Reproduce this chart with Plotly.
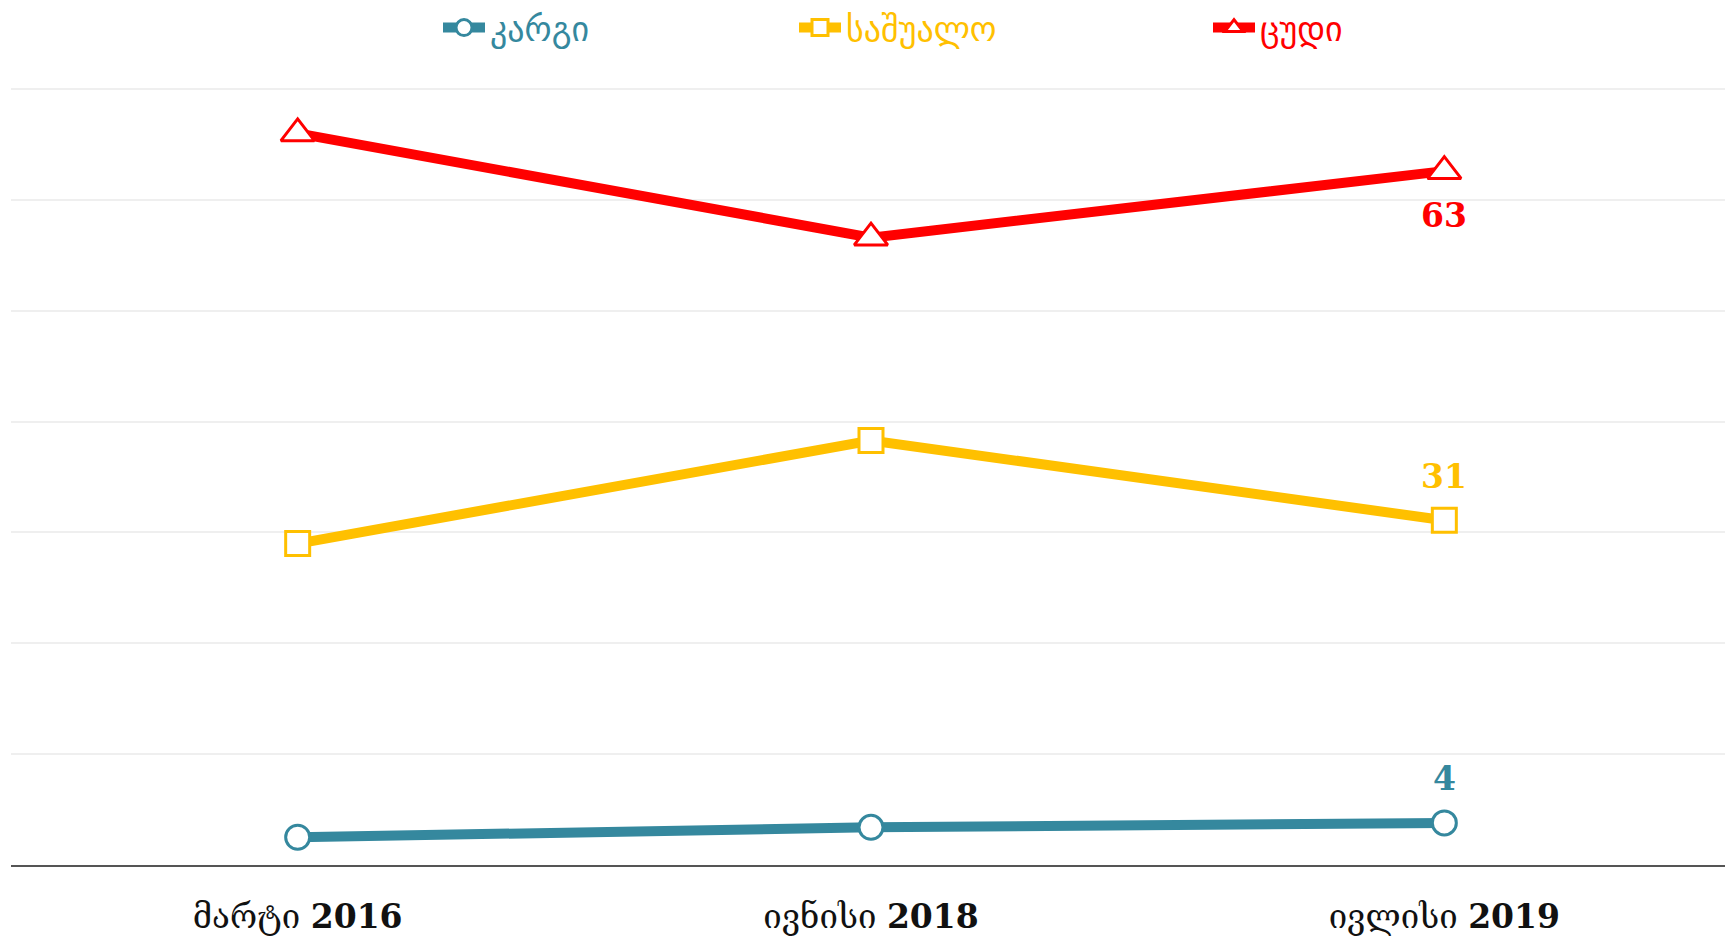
import plotly.graph_objects as go

categories = ["მარტი <b>2016</b>", "ივნისი <b>2018</b>", "ივლისი <b>2019</b>"]
good = [2.5, 3.4, 3.8]
medium = [29.0, 38.3, 31.1]
bad = [66.0, 56.6, 62.6]

series_names = ["კარგი", "საშუალო", "ცუდი"]
colors = ["#35889e", "#ffc000", "#ff0000"]
symbols = ["circle", "square", "triangle-up"]
marker_sizes = [24, 24, 29]
label_shift = [44, 44, -44]
legend_x = [430, 786, 1200]

fig = go.Figure()
all_vals = [good, medium, bad]
for i, (name, vals) in enumerate(zip(series_names, all_vals)):
    fig.add_trace(go.Scatter(
        x=categories, y=vals, mode="lines+markers",
        name=f'<span style="color:{colors[i]}">{name}</span>',
        line=dict(color=colors[i], width=10),
        marker=dict(symbol=symbols[i], size=marker_sizes[i], color="white",
                    line=dict(color=colors[i], width=3)),
        legend="legend" if i == 0 else f"legend{i+1}",
        hoverinfo="skip",
    ))
    fig.add_annotation(x=categories[-1], y=vals[-1], text=f"<b>{round(vals[-1])}</b>",
                       showarrow=False, yshift=label_shift[i],
                       font=dict(family="DejaVu Serif", size=33, color=colors[i]))

W, H = 1725, 929
legend_common = dict(orientation="h", xref="container", yref="container", yanchor="middle",
                     xanchor="left", y=1 - 20 / H, bgcolor="rgba(0,0,0,0)", itemwidth=42,
                     font=dict(family="DejaVu Sans", size=34))
layout_legends = {}
for i in range(3):
    key = "legend" if i == 0 else f"legend{i+1}"
    layout_legends[key] = dict(legend_common, x=legend_x[i] / W)

fig.update_layout(
    width=W, height=H,
    margin=dict(l=3, r=2, t=80, b=72),
    plot_bgcolor="white", paper_bgcolor="white",
    showlegend=True,
    **layout_legends,
    xaxis=dict(showgrid=False, showline=True, linecolor="#555555", linewidth=1.5,
               range=[-0.5, 2.5], ticks="", ticklabelstandoff=22,
               tickfont=dict(family="DejaVu Serif", size=33, color="#111111")),
    yaxis=dict(range=[0, 70.1], dtick=10, showgrid=True, gridcolor="#efefef", gridwidth=1.5,
               showticklabels=False, zeroline=False, showline=False),
)

fig.write_html("out.html")
